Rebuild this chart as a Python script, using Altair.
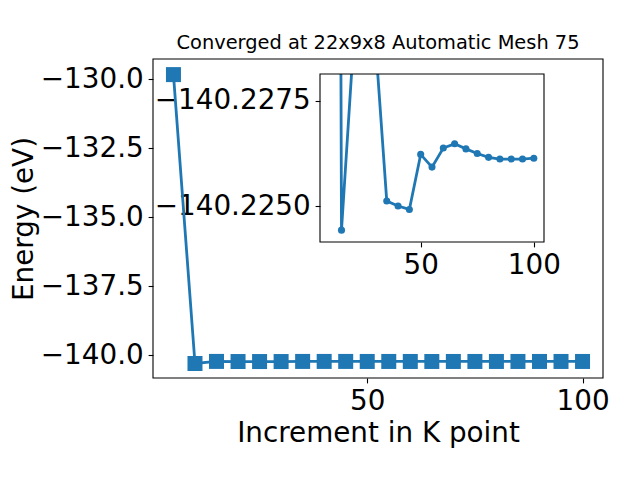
import altair as alt
import pandas as pd

# ---- data ----
k_points = [5, 10, 15, 20, 25, 30, 35, 40, 45, 50, 55, 60, 65, 70, 75, 80, 85, 90, 95, 100]
energies = [-129.84, -140.30, -140.22444, -140.2286, -140.2290, -140.2289, -140.22513,
            -140.22501, -140.22493, -140.22623, -140.22593, -140.22638, -140.22648,
            -140.22636, -140.22625, -140.22616, -140.22612, -140.22612, -140.22612,
            -140.22614]
main_x_ticks = [50, 100]
main_y_ticks = [-140.0, -137.5, -135.0, -132.5, -130.0]
inset_x_ticks = [50, 100]
inset_y_ticks = [-140.2275, -140.2250]
title_text = "Converged at 22x9x8 Automatic Mesh 75"

# axis limits (as in the reference)
MAIN_X_DOMAIN = [0.25, 104.75]
MAIN_Y_DOMAIN = [-140.825, -129.275]
INSET_X_DOMAIN = [5.5, 104.5]
INSET_Y_DOMAIN = [-140.22813, -140.22416]   # shown inverted: first value at top

# layout (pixels inside the main plot area)
W, H = 450, 319
INSET_X_RANGE = [167, 391]
INSET_Y_RANGE = [15, 183]

FONT = "DejaVu Sans"
BLUE = "#1f77b4"
FS = 27.8

main_df = pd.DataFrame({"k": k_points, "E": energies})
inset_df = main_df.iloc[1:].reset_index(drop=True)

# ---- main chart ----
m_xscale = alt.Scale(domain=MAIN_X_DOMAIN, nice=False, zero=False)
m_yscale = alt.Scale(domain=MAIN_Y_DOMAIN, nice=False, zero=False)
x_main = alt.X("k:Q", scale=m_xscale,
               axis=alt.Axis(values=main_x_ticks, format="d", title="Increment in K point",
                             titlePadding=4, orient="bottom"))
y_main = alt.Y("E:Q", scale=m_yscale,
               axis=alt.Axis(values=main_y_ticks, format=".1f", title="Energy (eV)",
                             titlePadding=2, orient="left"))
base = alt.Chart(main_df).encode(x=x_main, y=y_main)
main_layer = alt.layer(
    base.mark_line(color=BLUE, strokeWidth=2.8),
    base.mark_point(shape="square", filled=True, size=225, color=BLUE, opacity=1),
)

# ---- inset ----
in_xscale = alt.Scale(domain=INSET_X_DOMAIN, range=INSET_X_RANGE, nice=False, zero=False)
in_yscale = alt.Scale(domain=INSET_Y_DOMAIN, range=INSET_Y_RANGE, nice=False, zero=False)
x_in = alt.X("k:Q", scale=in_xscale,
             axis=alt.Axis(values=inset_x_ticks, format="d", title=None, orient="bottom",
                           offset=-(H - INSET_Y_RANGE[1])))
y_in = alt.Y("E:Q", scale=in_yscale,
             axis=alt.Axis(values=inset_y_ticks, format=".4f", title=None, orient="left",
                           offset=-INSET_X_RANGE[0]))

px = (INSET_Y_DOMAIN[1] - INSET_Y_DOMAIN[0]) / (INSET_Y_RANGE[1] - INSET_Y_RANGE[0])
# white mask hiding the inset lines above the inset box (clipped at the main plot edge)
mask_df = pd.DataFrame({"k0": [INSET_X_DOMAIN[0]], "k1": [INSET_X_DOMAIN[1]],
                        "E0": [INSET_Y_DOMAIN[0]],
                        "E1": [INSET_Y_DOMAIN[0] - (INSET_Y_RANGE[0] + 20) * px]})
frame_df = pd.DataFrame({"k0": [INSET_X_DOMAIN[0]], "k1": [INSET_X_DOMAIN[1]],
                         "E0": [INSET_Y_DOMAIN[0]], "E1": [INSET_Y_DOMAIN[1]]})

ibase = alt.Chart(inset_df).encode(x=x_in, y=y_in)
mask = alt.Chart(mask_df).mark_rect(fill="white", clip=True).encode(
    x=alt.X("k0:Q", scale=in_xscale), x2="k1:Q",
    y=alt.Y("E0:Q", scale=in_yscale), y2="E1:Q")
frame = alt.Chart(frame_df).mark_rect(fill="white", fillOpacity=0, stroke="black",
                                      strokeWidth=1.1).encode(
    x=alt.X("k0:Q", scale=in_xscale), x2="k1:Q",
    y=alt.Y("E0:Q", scale=in_yscale), y2="E1:Q")

inset_layer = alt.layer(
    ibase.mark_line(color=BLUE, strokeWidth=2.8, clip=True),
    ibase.mark_circle(color=BLUE, size=50, opacity=1, clip=True),
    mask,
    frame,
)

# ---- main frame, drawn last ----
mframe_df = pd.DataFrame({"k0": [MAIN_X_DOMAIN[0]], "k1": [MAIN_X_DOMAIN[1]],
                          "E0": [MAIN_Y_DOMAIN[0]], "E1": [MAIN_Y_DOMAIN[1]]})
main_frame = alt.Chart(mframe_df).mark_rect(fill="white", fillOpacity=0, stroke="black",
                                            strokeWidth=1.1).encode(
    x=alt.X("k0:Q", scale=m_xscale, axis=None), x2="k1:Q",
    y=alt.Y("E0:Q", scale=m_yscale, axis=None), y2="E1:Q")

chart = alt.layer(main_layer, inset_layer, main_frame).resolve_scale(
    x="independent", y="independent"
).resolve_axis(
    x="independent", y="independent"
).properties(
    width=W, height=H,
    title=alt.TitleParams(title_text, font=FONT, fontSize=19.4, fontWeight="normal",
                          color="black", offset=5, anchor="middle"),
    padding={"left": 2, "top": 25, "right": 5, "bottom": 5},
).configure_axis(
    labelFont=FONT, labelFontSize=FS, labelColor="black",
    titleFont=FONT, titleFontSize=FS, titleFontWeight="normal", titleColor="black",
    tickColor="black", tickSize=4.9, tickWidth=1.1, labelPadding=4.9,
    grid=False, domain=False, labelOverlap=False, labelFlush=False,
).configure_view(
    stroke="transparent", fill="white"
)

chart.save("out.html", embed_options={"renderer": "svg", "actions": False})
